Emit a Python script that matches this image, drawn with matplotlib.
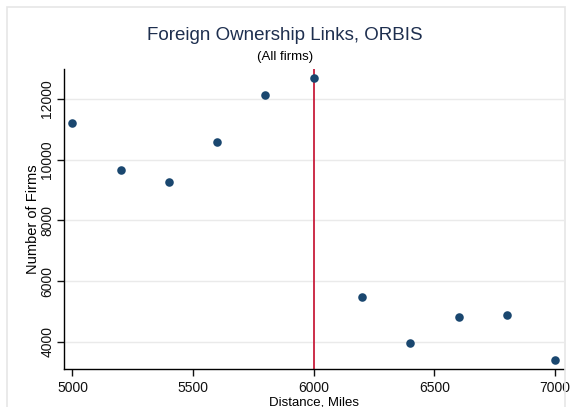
import matplotlib
matplotlib.use("Agg")
import matplotlib.pyplot as plt
from matplotlib.patches import Rectangle

# Distance bins (miles) and number of firms with foreign ownership links
distance = [5000, 5200, 5400, 5600, 5800, 6000, 6200, 6400, 6600, 6800, 7000]
firms = [11220, 9670, 9250, 10580, 12130, 12700, 5480, 3950, 4825, 4880, 3400]

x_ticks = [5000, 5500, 6000, 6500, 7000]
y_ticks = [4000, 6000, 8000, 10000, 12000]
cutoff = 6000

plt.rcParams["font.family"] = ["Liberation Sans", "DejaVu Sans"]

fig = plt.figure(figsize=(5.76, 4.07), dpi=100)
fig.patch.set_facecolor("white")
fig.patches.append(Rectangle((7 / 576, -0.05), (565 - 7) / 576, 1.05 - 7 / 407,
                             transform=fig.transFigure, fill=False,
                             edgecolor="#e6e6e6", linewidth=1.2))

ax = fig.add_axes([64 / 576, 1 - 369.3 / 407, (564 - 64) / 576, (369.3 - 69) / 407])
ax.set_xlim(4965, 7037)
ax.set_ylim(3090, 12990)

for s in ("top", "right"):
    ax.spines[s].set_visible(False)
for s in ("left", "bottom"):
    ax.spines[s].set_color("black")
    ax.spines[s].set_linewidth(1.0)

ax.set_yticks(y_ticks)
ax.set_xticks(x_ticks)
ax.set_yticklabels([str(v) for v in y_ticks], rotation=90, va="center")
ax.tick_params(axis="both", labelsize=10, colors="#111111", length=5, width=1)
ax.tick_params(axis="y", pad=2)
ax.grid(axis="y", color="#eaeaea", linewidth=1.0)
ax.set_axisbelow(True)

ax.axvline(cutoff, color="#c81e3c", linewidth=1.3, zorder=2)
ax.scatter(distance, firms, s=38, color="#1a476f", zorder=3, linewidths=0)

ax.set_xlabel("Distance, Miles", fontsize=9.5, labelpad=1)
ax.set_ylabel("Number of Firms", fontsize=10.5, labelpad=0)

title_x = 285 / 576
fig.text(title_x, 1 - 35 / 407, "Foreign Ownership Links, ORBIS",
         ha="center", va="center", fontsize=13.5, color="#1e2f4f")
fig.text(title_x, 1 - 57 / 407, "(All firms)",
         ha="center", va="center", fontsize=9.5, color="black")

fig.savefig("out.png", dpi=100)
